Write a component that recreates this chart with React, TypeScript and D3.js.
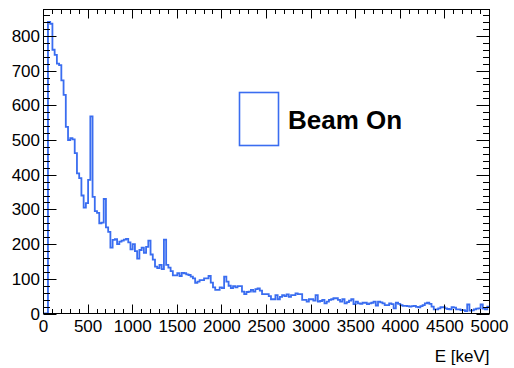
import React from "react";
import * as d3 from "d3";

// ---- data ----
const binLow = 0;      // keV
const binWidth = 25;   // keV
const counts: number[] = [
  0, 0, 840, 835, 760, 745, 720, 716, 672, 630,
  538, 500, 505, 502, 462, 404, 390, 340, 305, 318,
  385, 568, 336, 295, 290, 260, 262, 330, 248, 235,
  190, 212, 214, 200, 207, 210, 213, 215, 205, 185,
  200, 180, 158, 183, 190, 175, 192, 210, 170, 155,
  135, 131, 140, 128, 213, 140, 132, 122, 110, 110,
  116, 108, 117, 116, 113, 111, 106, 101, 88, 92,
  96, 96, 101, 101, 108, 89, 75, 68, 68, 75,
  73, 106, 92, 80, 73, 79, 75, 79, 79, 63,
  56, 62, 63, 68, 63, 70, 72, 66, 56, 56,
  56, 50, 41, 41, 53, 41, 48, 53, 50, 55,
  48, 53, 53, 58, 56, 56, 39, 39, 34, 41,
  41, 37, 53, 34, 36, 39, 29, 34, 39, 41,
  44, 44, 39, 34, 41, 29, 33, 37, 41, 27,
  34, 29, 28, 31, 31, 27, 29, 31, 34, 23,
  34, 32, 29, 24, 24, 29, 27, 15, 31, 28,
  24, 22, 22, 21, 20, 21, 22, 19, 18, 21,
  24, 29, 31, 28, 20, 12, 12, 15, 18, 18,
  15, 13, 12, 18, 17, 12, 12, 10, 10, 7,
  26, 8, 9, 12, 14, 15, 26, 14, 12, 20,
];
const xTickLabels = [0, 500, 1000, 1500, 2000, 2500, 3000, 3500, 4000, 4500, 5000];
const yTickLabels = [0, 100, 200, 300, 400, 500, 600, 700, 800];
const xTitle = "E [keV]";
const legendLabel = "Beam On";

// ---- layout ----
const W = 514, H = 368;
const X0 = 43.5, X1 = 489.5, Y0 = 313.5, Y1 = 9.5;
const BLUE = "#3a6df0";
const FONT = "'Liberation Sans', Arial, Helvetica, sans-serif";

export default function App() {
  const x = d3.scaleLinear().domain([0, 5000]).range([X0, X1]);
  const y = d3.scaleLinear().domain([0, 876]).range([Y0, Y1]);

  const pts: [number, number][] = counts.map((c, i) => [binLow + i * binWidth, c]);
  pts.push([binLow + counts.length * binWidth, counts[counts.length - 1]]);
  const line = d3
    .line<[number, number]>()
    .x((d) => x(d[0]))
    .y((d) => y(d[1]))
    .curve(d3.curveStepAfter);

  const yMinor = d3.range(0, 877, 20);
  const xMinor = d3.range(0, 5001, 100);

  return (
    <svg width={W} height={H} style={{ position: "absolute", left: 0, top: 0, background: "#fff" }}>
      <rect x={0} y={0} width={W} height={H} fill="#fff" />
      <path d={line(pts) || ""} fill="none" stroke={BLUE} strokeWidth={1.8} />
      {/* frame */}
      <rect x={X0} y={Y1} width={X1 - X0} height={Y0 - Y1} fill="none" stroke="#000" strokeWidth={1} />
      {/* y ticks */}
      {yMinor.map((v) => {
        const major = v % 100 === 0;
        const len = major ? 13 : 6.5;
        const yy = Math.round(y(v)) + 0.5;
        return (
          <g key={"y" + v}>
            <line x1={X0} x2={X0 + len} y1={yy} y2={yy} stroke="#000" strokeWidth={1} />
            <line x1={X1} x2={X1 - len} y1={yy} y2={yy} stroke="#000" strokeWidth={1} />
          </g>
        );
      })}
      {/* x ticks */}
      {xMinor.map((v) => {
        const major = v % 500 === 0;
        const len = major ? 9 : 4.5;
        const xx = Math.round(x(v) - 0.5) + 0.5;
        return (
          <g key={"x" + v}>
            <line x1={xx} x2={xx} y1={Y0} y2={Y0 - len} stroke="#000" strokeWidth={1} />
            <line x1={xx} x2={xx} y1={Y1} y2={Y1 + len} stroke="#000" strokeWidth={1} />
          </g>
        );
      })}
      {/* y labels */}
      {yTickLabels.map((v) => (
        <text key={"yl" + v} x={40} y={y(v) + 6} textAnchor="end" fontFamily={FONT} fontSize={17} fill="#000">
          {v}
        </text>
      ))}
      {/* x labels */}
      {xTickLabels.map((v) => (
        <text key={"xl" + v} x={x(v)} y={332} textAnchor="middle" fontFamily={FONT} fontSize={17} fill="#000">
          {v}
        </text>
      ))}
      <text x={X1} y={362} textAnchor="end" fontFamily={FONT} fontSize={17} fill="#000">
        {xTitle}
      </text>
      {/* legend */}
      <rect x={239.5} y={92.5} width={39} height={53} fill="#fff" stroke={BLUE} strokeWidth={1.6} />
      <text x={288} y={129} fontFamily={FONT} fontSize={26} fontWeight="bold" fill="#000">
        {legendLabel}
      </text>
    </svg>
  );
}
